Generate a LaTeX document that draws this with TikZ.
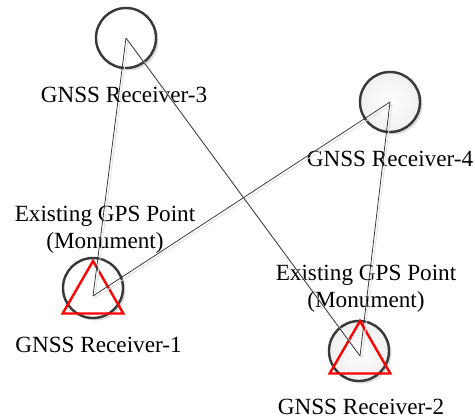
\documentclass[tikz,border=0pt]{standalone}
\usepackage{fontspec}
\setmainfont{Liberation Serif}
\usetikzlibrary{shapes.geometric,shadows}

\tikzset{
  receiver/.style={circle, draw=black!78, line width=2.4pt, minimum size=60pt, inner sep=0pt,
    drop shadow={shadow xshift=2.5pt, shadow yshift=-2.5pt, fill=black!14, opacity=1}},
  plainfill/.style={fill=white},
  greyfill/.style={inner color=white, outer color=black!6},
  monument/.style={regular polygon, regular polygon sides=3, draw=red, line width=2.4pt,
    minimum size=70pt, inner sep=0pt},
  link/.style={draw=black!80, line width=0.75pt},
  linkshadow/.style={draw=black!12, line width=0.9pt, transform canvas={shift={(2pt,-2pt)}}},
  label/.style={font=\fontsize{23.2}{27}\selectfont, anchor=base, inner sep=0pt, align=center}
}

\begin{document}
\begin{tikzpicture}[x=1pt, y=-1pt]
  \useasboundingbox (0,0) rectangle (475,418);

  % receiver antennas
  \node[receiver, plainfill] (r3) at (126,38) {};
  \node[receiver, greyfill] (r4) at (390,102) {};
  \node[receiver, plainfill] (r1) at (93,288) {};
  \node[receiver, greyfill] (r2) at (359,351) {};

  % existing GPS monuments
  \node[monument] (t1) at (93,296) {};
  \node[monument] (t2) at (360,356) {};

  % labels
  \node[label] (l3) at (124,102) {GNSS Receiver-3};
  \node[label] (l4) at (390,166) {GNSS Receiver-4};
  \node[label] (l1) at (98.5,352) {GNSS Receiver-1};
  \node[label] (l2) at (361,414) {GNSS Receiver-2};
  \node[label] (e1) at (105,221) {Existing GPS Point};
  \node[label] (m1) at (105,248) {(Monument)};
  \node[label] (e2) at (366,280) {Existing GPS Point};
  \node[label] (m2) at (366,307) {(Monument)};

  % baselines between receivers
  \foreach \a/\b in {r3/t1, r3/t2, r4/t1, r4/t2} {
    \draw[linkshadow] (\a.center) -- (\b.center);
  }
  \foreach \a/\b in {r3/t1, r3/t2, r4/t1, r4/t2} {
    \draw[link] (\a.center) -- (\b.center);
  }
\end{tikzpicture}
\end{document}
